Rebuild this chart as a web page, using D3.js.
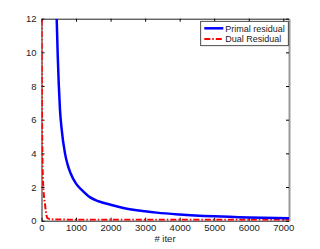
<!DOCTYPE html>
<meta charset="utf-8">
<script src="https://d3js.org/d3.v7.min.js"></script>
<style>
  body { margin: 0; background: #fff; }
  text { font-family: "Liberation Sans", Arial, sans-serif; }
</style>
<body>
<svg id="vis" width="320" height="249"></svg>
<script>
// data
var primalIter  = [440, 470, 500, 535, 580, 680, 760, 845, 1000, 1163, 1400, 1549, 2000, 2368, 3000, 3335, 4000, 5000, 6000, 7165];
var primalValue = [12, 9.8, 8.1, 6.6, 5.5, 4.0, 3.3, 2.8, 2.2, 1.83, 1.4, 1.24, 0.95, 0.76, 0.56, 0.48, 0.37, 0.26, 0.19, 0.14];
var dualIter  = [0, 10, 25, 52, 100, 130, 160, 200, 300, 500, 1000, 3000, 5000, 7165];
var dualValue = [14, 8, 4, 2, 1, 0.5, 0.2, 0.12, 0.08, 0.07, 0.06, 0.05, 0.05, 0.05];
var xTicks = [0, 1000, 2000, 3000, 4000, 5000, 6000, 7000];
var yTicks = [0, 2, 4, 6, 8, 10, 12];
var seriesNames = ["Primal residual", "Dual Residual"];

var margin = {top: 18.7, right: 31, bottom: 28.3, left: 41.5},
    width = 320 - margin.left - margin.right,
    height = 249 - margin.top - margin.bottom;

var svg = d3.select("#vis")
  .append("g")
    .attr("transform", "translate(" + margin.left + "," + margin.top + ")");

var x = d3.scaleLinear().domain([0, 7165]).range([0, width]);
var y = d3.scaleLinear().domain([0, 12]).range([height, 0]);

svg.append("clipPath").attr("id", "clip")
  .append("rect").attr("width", width).attr("height", height);

// axes, ticks pointing inward like matlab
svg.append("g")
  .attr("transform", "translate(0," + height + ")")
  .call(d3.axisBottom(x).tickValues(xTicks).tickFormat(d3.format("d")).tickSize(-3).tickPadding(3.5).tickSizeOuter(0));
svg.append("g")
  .call(d3.axisLeft(y).tickValues(yTicks).tickSize(-3).tickPadding(5).tickSizeOuter(0));
svg.append("g")
  .call(d3.axisTop(x).tickValues(xTicks).tickSize(-3).tickFormat("").tickSizeOuter(0));
var rightAxis = svg.append("g")
  .attr("transform", "translate(" + width + ",0)")
  .call(d3.axisRight(y).tickValues(yTicks).tickSize(-3).tickFormat("").tickSizeOuter(0));
rightAxis.select(".domain").attr("stroke", "#999").attr("stroke-width", 2);

svg.selectAll(".tick text").attr("font-size", "9.5px").attr("fill", "#222");
svg.selectAll(".domain").filter(function() { return this.parentNode !== rightAxis.node(); })
  .attr("stroke", "#222");

var line = d3.line()
  .x(function(d) { return x(d[0]); })
  .y(function(d) { return y(d[1]); })
  .curve(d3.curveMonotoneX);

var primal = primalIter.map(function(d, i) { return [d, primalValue[i]]; });
var dual = dualIter.map(function(d, i) { return [d, dualValue[i]]; });

svg.append("path")
  .datum(dual)
  .attr("clip-path", "url(#clip)")
  .attr("d", line)
  .attr("fill", "none")
  .attr("stroke", "#ff0000")
  .attr("stroke-width", 2)
  .attr("stroke-dasharray", "6,2,1.5,2");

svg.append("path")
  .datum(primal)
  .attr("clip-path", "url(#clip)")
  .attr("d", line)
  .attr("fill", "none")
  .attr("stroke", "#0000ff")
  .attr("stroke-width", 2.5);

// x label
svg.append("text")
  .attr("x", 165 - margin.left)
  .attr("y", 242 - margin.top)
  .attr("text-anchor", "middle")
  .attr("font-size", "9.5px")
  .attr("fill", "#222")
  .text("# iter");

// legend
var legend = svg.append("g").attr("transform", "translate(" + (200.7 - margin.left) + "," + (21.3 - margin.top) + ")");
legend.append("rect")
  .attr("width", 87.6).attr("height", 24.4)
  .attr("fill", "#fff").attr("stroke", "#222").attr("stroke-width", 0.8);
var styles = [{c: "#0000ff", w: 2.5, dash: null}, {c: "#ff0000", w: 2, dash: "6,2,1.5,2"}];
seriesNames.forEach(function(name, i) {
  var yy = 7 + i * 10.7;
  legend.append("line")
    .attr("x1", 3.6).attr("x2", 22.6).attr("y1", yy).attr("y2", yy)
    .attr("stroke", styles[i].c).attr("stroke-width", styles[i].w)
    .attr("stroke-dasharray", styles[i].dash);
  legend.append("text")
    .attr("x", 24.6).attr("y", yy + 3.3)
    .attr("font-size", "9px").attr("fill", "#222")
    .text(name);
});
</script>
</body>
